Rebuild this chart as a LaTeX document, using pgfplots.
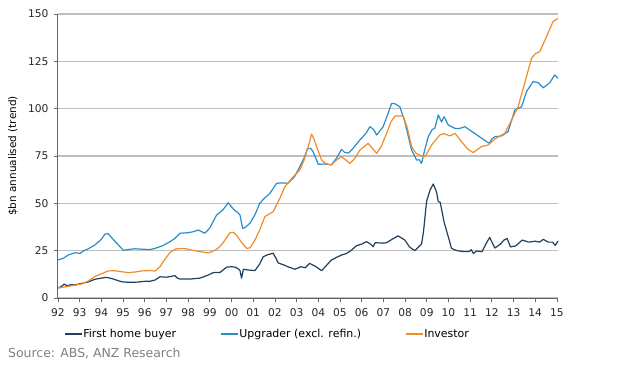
\documentclass[border=0pt]{standalone}
\usepackage{pgfplots}
\pgfplotsset{compat=1.18}
\usepackage{fontspec}
\setmainfont{DejaVu Sans}
\definecolor{fhb}{HTML}{203F5E}
\definecolor{upg}{HTML}{2B8CCC}
\definecolor{inv}{HTML}{F08C2A}
\definecolor{gridc}{HTML}{BFBFBF}
\definecolor{axc}{HTML}{666666}
\begin{document}
\begin{tikzpicture}
\useasboundingbox (-58bp,-71bp) rectangle (573bp,298bp);
\begin{axis}[
  scale only axis, width=500bp, height=284bp,
  xmin=0, xmax=23.05, ymin=0, ymax=150,
  axis x line=bottom, axis y line=left,
  axis line style={draw=axc, line width=1bp, -},
  xtick={0,...,23},
  xticklabels={92,93,94,95,96,97,98,99,00,01,02,03,04,05,06,07,08,09,10,11,12,13,14,15},
  ytick={0,25,...,150},
  tick align=outside, major tick length=4bp,
  tick style={draw=axc, line width=0.8bp},
  ymajorgrids, grid style={draw=gridc, line width=1.1bp},
  /pgf/number format/assume math mode=true,
  tick label style={font=\fontsize{10.7}{12}\selectfont, text=black!85},
  xticklabel style={yshift=-3bp},
  yticklabel style={xshift=-2bp},
  ylabel={\$bn annualised (trend)},
  ylabel style={at={(axis description cs:-0.09,0.5)}, anchor=center, font=\fontsize{10.5}{12}\selectfont},
  legend columns=3,
  legend style={draw=none, fill=none, inner sep=0pt, at={(axis description cs:0,0)}, anchor=west, xshift=6bp, yshift=-36bp,
    font=\fontsize{11}{13}\selectfont, nodes={inner sep=1bp},
    /tikz/every even column/.append style={column sep=43bp}},
  legend cell align=left,
  legend image code/.code={\draw[#1] (0bp,0bp) -- (17bp,0bp);},
  every axis plot/.append style={line width=1.2bp, line join=round},
  clip=false,
]
\addplot[fhb] coordinates {(0,5.3)(0.15,6)(0.29,7.4)(0.4,6.5)(0.6,7)(0.78,6.9)(1.09,7.7)(1.4,8.5)(1.7,9.9)(2.0,10.5)(2.24,10.9)(2.5,10.2)(2.93,8.6)(3.2,8.3)(3.55,8.3)(4.0,8.8)(4.24,8.8)(4.47,9.5)(4.7,11.2)(5.0,11)(5.39,11.8)(5.5,10.5)(5.62,10)(6.08,10)(6.54,10.5)(6.9,12)(7.16,13.4)(7.47,13.5)(7.77,16.3)(8.0,16.5)(8.16,16.3)(8.3,15.5)(8.39,14.5)(8.46,10.5)(8.55,15.2)(8.75,14.8)(9.08,14.5)(9.3,18)(9.46,21.8)(9.7,23)(9.92,23.6)(10.05,21)(10.15,18.5)(10.4,17.5)(10.6,16.5)(10.92,15.2)(11.2,16.5)(11.4,16)(11.6,18.3)(11.9,16.5)(12.15,14.4)(12.4,17.5)(12.6,20)(12.85,21.5)(13.07,22.7)(13.3,23.5)(13.5,25)(13.76,27.6)(14.0,28.5)(14.22,29.8)(14.4,28.5)(14.53,27.1)(14.62,29.2)(15.0,29)(15.15,29.2)(15.4,31)(15.68,32.8)(15.99,30.6)(16.2,27)(16.45,25)(16.76,28.5)(16.85,35)(16.99,51)(17.15,57)(17.3,60.2)(17.45,56)(17.53,51)(17.62,50.5)(17.8,40)(18.0,32)(18.14,26.2)(18.4,25)(18.7,24.5)(18.95,24.5)(19.05,25.5)(19.15,23.5)(19.3,24.8)(19.55,24.5)(19.7,28)(19.9,32)(20.14,26.4)(20.4,28.5)(20.55,30.5)(20.7,31.5)(20.86,27)(21.1,27.5)(21.4,30.6)(21.7,29.5)(22.0,30)(22.2,29.5)(22.37,31)(22.6,29.5)(22.8,29.5)(22.92,27.8)(23.05,30)};
\addlegendentry{First home buyer}
\addplot[upg] coordinates {(0,20.1)(0.25,21)(0.47,22.7)(0.78,23.9)(1.01,23.6)(1.2,25)(1.4,26)(1.7,28)(2.0,31)(2.17,33.8)(2.3,34)(2.4,32.8)(2.7,29)(3.01,25.2)(3.3,25.7)(3.55,26)(4.0,25.7)(4.24,25.6)(4.47,26.2)(4.8,27.5)(5.16,29.7)(5.39,31.5)(5.62,34.2)(6.0,34.5)(6.24,35)(6.47,35.9)(6.77,34.2)(7.0,37)(7.31,43.8)(7.6,46.5)(7.85,50.3)(8.08,47)(8.3,45)(8.39,43.8)(8.51,36.8)(8.6,37)(8.85,39.5)(9.08,44)(9.3,50)(9.5,52.5)(9.77,55.3)(10.08,60.6)(10.3,60.8)(10.6,60.6)(10.9,64)(11.15,69.4)(11.35,74)(11.5,79)(11.65,79)(11.75,77.5)(12.0,70.6)(12.3,70.8)(12.6,70.3)(12.85,74)(13.07,78.5)(13.2,77)(13.38,76.5)(13.6,79)(13.92,83.5)(14.2,87)(14.38,90.5)(14.55,89)(14.69,86.1)(14.99,90.5)(15.2,97)(15.38,102.8)(15.55,102.5)(15.76,101)(15.99,93)(16.3,78.2)(16.53,72.9)(16.65,73)(16.76,71.1)(16.9,78)(17.07,85.2)(17.25,89)(17.37,89.6)(17.53,96.7)(17.68,93)(17.8,95.8)(17.99,91.4)(18.3,89.6)(18.5,89.5)(18.76,90.5)(18.9,89.3)(19.2,87)(19.53,84.4)(19.88,81.7)(20.0,84)(20.14,85.2)(20.45,85.6)(20.75,87.9)(21.06,99.3)(21.37,101)(21.6,109)(21.9,114.3)(22.13,113.8)(22.37,111)(22.67,113.7)(22.9,117.8)(23.05,116)};
\addlegendentry{Upgrader (excl. refin.)}
\addplot[inv] coordinates {(0,5.3)(0.5,6.2)(1.09,7.4)(1.4,9)(1.7,11.3)(2.0,12.8)(2.32,14.3)(2.63,14.4)(3.0,13.8)(3.24,13.4)(3.6,13.8)(3.85,14.3)(4.24,14.5)(4.47,14.2)(4.7,16.5)(4.9,20)(5.16,24)(5.4,25.8)(5.62,26.2)(5.9,26)(6.2,25.2)(6.54,24.5)(6.93,23.8)(7.2,25)(7.37,26.2)(7.6,29)(7.93,34.5)(8.08,34.7)(8.25,33)(8.45,29.5)(8.7,26.2)(8.85,26.5)(9.08,30.6)(9.3,36)(9.54,43)(9.75,44.5)(9.92,45.6)(10.2,52)(10.46,58.8)(10.8,63.5)(11.15,67.6)(11.35,73)(11.54,80)(11.69,86.6)(11.8,84)(11.92,80)(12.15,72.9)(12.35,71)(12.6,70.3)(12.85,73)(13.07,74.6)(13.25,73)(13.46,71.1)(13.7,74)(13.92,78.2)(14.3,81.7)(14.5,79)(14.69,76.4)(14.9,80)(15.15,87)(15.35,93)(15.53,96.1)(15.92,96.1)(16.1,90)(16.3,80)(16.5,76.5)(16.68,75.5)(16.92,74.6)(17.22,80.8)(17.6,86.1)(17.8,86.8)(18.07,85.6)(18.3,87)(18.6,82.6)(18.9,78.5)(19.14,76.8)(19.53,80)(19.83,80.8)(20.14,84)(20.6,87)(20.91,94)(21.21,101)(21.49,112.5)(21.83,126.6)(22.0,129)(22.21,130.1)(22.52,138)(22.82,146)(23.05,147.7)};
\addlegendentry{Investor}
\node[anchor=west, font=\fontsize{12.5}{14}\selectfont, text=black!50, inner sep=0pt] at (axis description cs:-0.1,-0.197) {Source: ABS, ANZ Research};
\end{axis}
\end{tikzpicture}
\end{document}
